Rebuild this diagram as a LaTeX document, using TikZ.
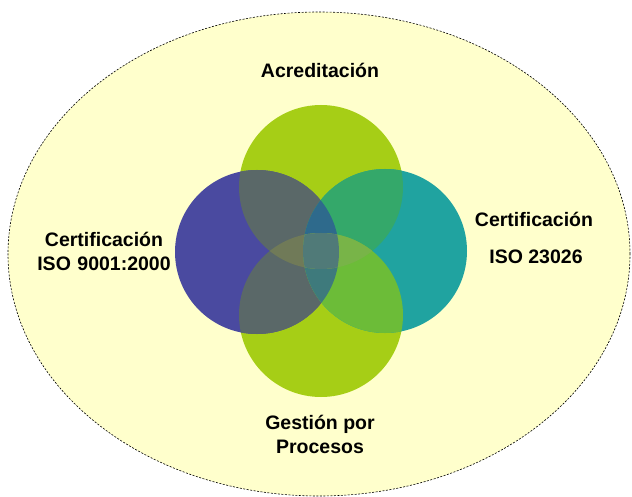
\documentclass[tikz,border=0pt]{standalone}
\usepackage{fontspec}
\usetikzlibrary{shapes.geometric}
\setmainfont{Liberation Sans}
\definecolor{bgy}{HTML}{FFFFCC}
\definecolor{cgreen}{HTML}{A6CE16}
\definecolor{cblue}{HTML}{4A4AA0}
\definecolor{cteal}{HTML}{20A3A0}
\definecolor{cTL}{HTML}{5A6868}
\definecolor{cTR}{HTML}{34A86A}
\definecolor{cBR}{HTML}{6CBC38}
\definecolor{cTLR}{HTML}{2E6A8C}
\definecolor{cBLR}{HTML}{3E7A7C}
\definecolor{cTBL}{HTML}{707A58}
\definecolor{cTBR}{HTML}{78B448}
\definecolor{cALL}{HTML}{507A78}
\tikzset{
  lbl/.style={font=\bfseries\fontsize{19.5}{24}\selectfont, align=center, inner sep=0pt},
}
\begin{document}
\begin{tikzpicture}[x=1pt,y=-1pt]
\useasboundingbox (0,0) rectangle (632,497);
\fill[white] (0,0) rectangle (632,497);
\node[draw=black, dash pattern=on 2pt off 1.5pt, line width=0.6pt, fill=bgy, ellipse, minimum width=622pt, minimum height=484pt, inner sep=0pt] (outer) at (319,254) {};
% circles
\def\ctop{(321,187) circle[radius=82]}
\def\cbot{(321,315) circle[radius=82]}
\def\cleft{(257,252) circle[radius=82]}
\def\cright{(385,251) circle[radius=82]}
\fill[cgreen] \ctop;
\fill[cgreen] \cbot;
\fill[cblue] \cleft;
\fill[cteal] \cright;
\begin{scope}
  \clip \cleft;
  \fill[cTL] \ctop; \fill[cTL] \cbot;
\end{scope}
\begin{scope}
  \clip \cright;
  \fill[cTR] \ctop; \fill[cBR] \cbot;
\end{scope}
\begin{scope}
  \clip \cleft; \clip \cright;
  \fill[cTLR] \ctop; \fill[cBLR] \cbot;
\end{scope}
\begin{scope}
  \clip \ctop; \clip \cbot;
  \fill[cTBL] \cleft; \fill[cTBR] \cright;
  \clip \cleft; \fill[cALL] \cright;
\end{scope}
\node[lbl] (acr) at (320,70) {Acreditación};
\node[lbl, text width=170pt] (certL) at (104,251) {Certificación\\ISO 9001:2000};
\node[lbl] (certR1) at (534,219) {Certificación};
\node[lbl] (certR2) at (536,257) {ISO 23026};
\node[lbl] (gest) at (320,434) {Gestión por\\Procesos};
\end{tikzpicture}
\end{document}
